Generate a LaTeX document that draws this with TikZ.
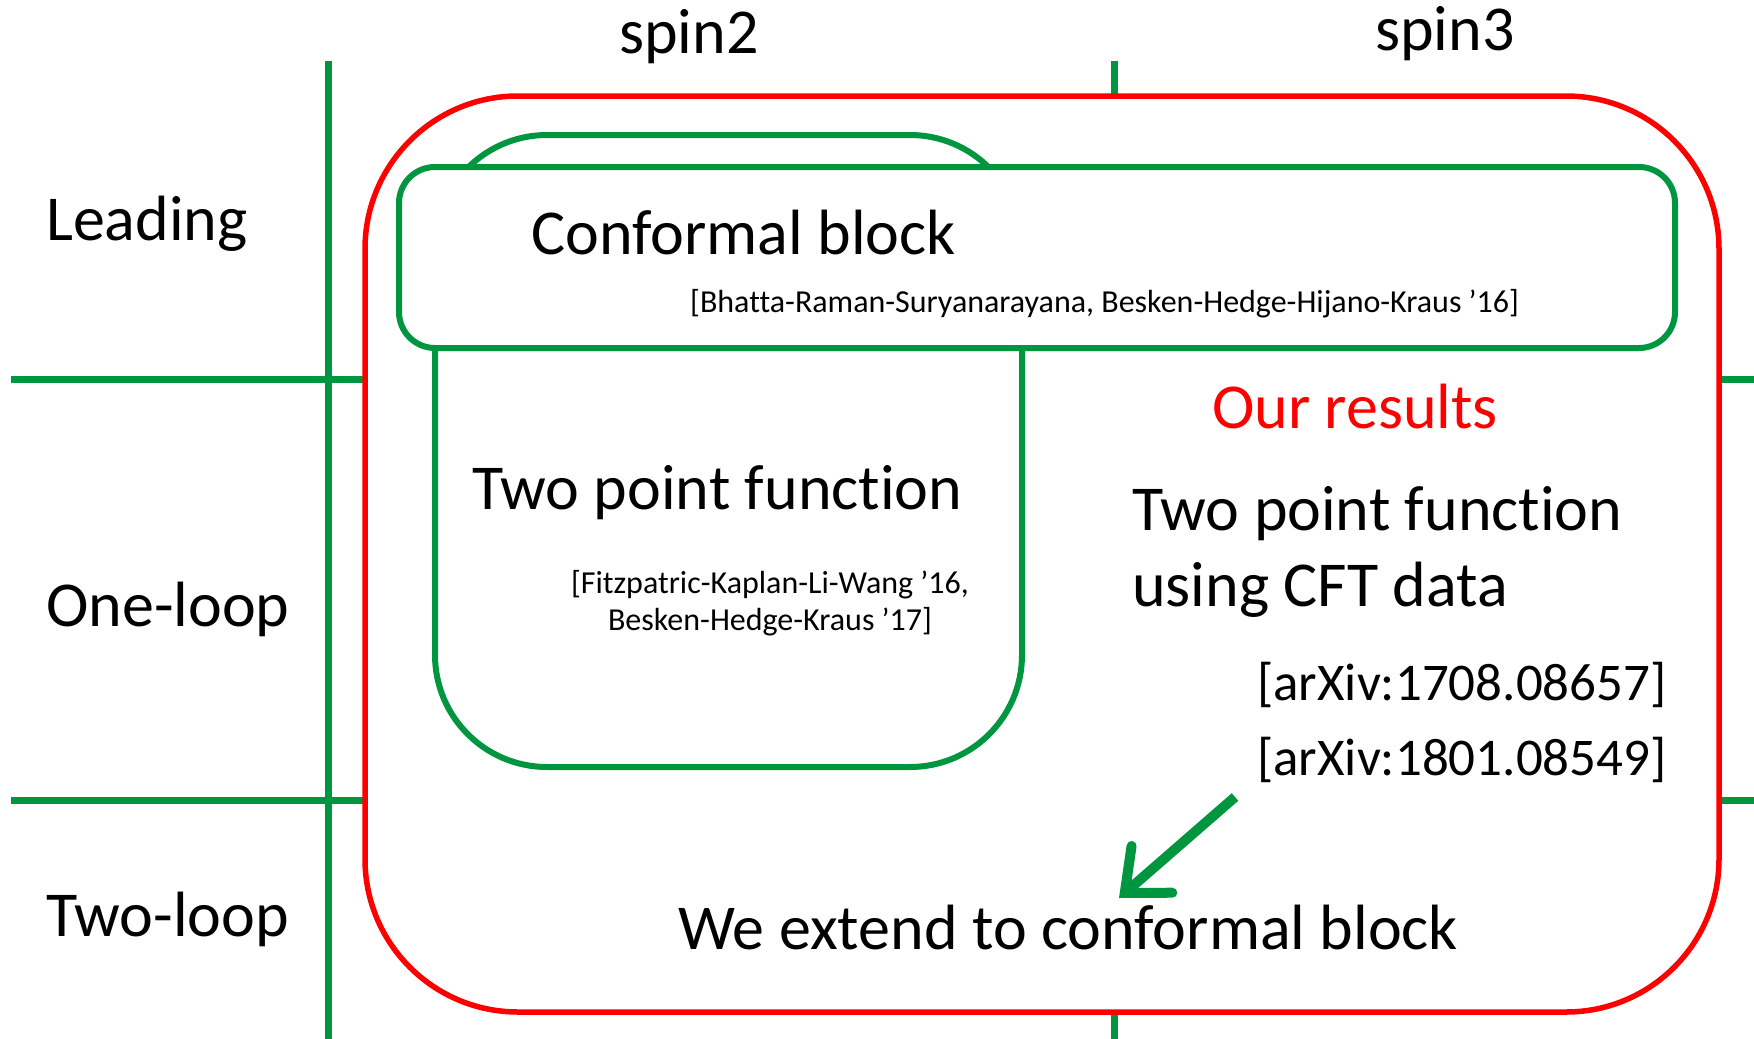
\documentclass[tikz,border=0pt]{standalone}
\usepackage{fontspec}
\setmainfont{Carlito}[Ligatures=NoCommon]
\usetikzlibrary{arrows.meta}
\definecolor{pgreen}{RGB}{0,150,64}
\definecolor{pred}{RGB}{255,0,0}
\begin{document}
\begin{tikzpicture}[x=1pt,y=-1pt,
  gridline/.style={draw=pgreen,line width=7pt},
  gbox/.style={draw=pgreen,line width=6pt},
  lbl/.style={inner sep=0pt,font=\fontsize{64}{70}\selectfont},
  mid/.style={inner sep=0pt,font=\fontsize{53}{60}\selectfont},
  cite/.style={inner sep=0pt,font=\fontsize{32}{37}\selectfont}]
\fill[white] (0,0) rectangle (1754,1039);
\useasboundingbox (0,0) rectangle (1754,1039);
% grid
\draw[gridline] (328,61) -- (328,1039);
\draw[gridline] (1114,61) -- (1114,1039);
\draw[gridline] (11,379) -- (1754,379);
\draw[gridline] (11,800) -- (1754,800);
% outer red box
\draw[draw=pred,line width=5.5pt,fill=white,rounded corners=153pt] (365,96) rectangle (1719,1012);
% two point function box
\draw[gbox,rounded corners=112pt] (435,135) rectangle (1022,767);
% conformal block box
\draw[gbox,fill=white,rounded corners=36pt] (399,167) rectangle (1675,348);
% labels
\node[lbl] (spin2) at (689,37) {spin2};
\node[lbl] (spin3) at (1445,34) {spin3};
\node[lbl,anchor=west] (lead) at (46,224) {Leading};
\node[lbl,anchor=west] (one) at (46,609) {One-loop};
\node[lbl,anchor=west] (two) at (46,919) {Two-loop};
\node[lbl,anchor=west] (cb) at (531,233) {Conformal block};
\node[cite,anchor=west] (cbcite) at (690,304) {[Bhatta-Raman-Suryanarayana, Besken-Hedge-Hijano-Kraus ’16]};
\node[lbl,anchor=west] (tpf) at (472,493) {Two point function};
\node[cite,align=center] (tpfcite) at (770,603) {[Fitzpatric-Kaplan-Li-Wang ’16,\\Besken-Hedge-Kraus ’17]};
\node[lbl,text=pred] (ours) at (1355,407) {Our results};
\node[lbl,anchor=west] (tpf2) at (1132,514) {Two point function};
\node[lbl,anchor=west] (cft) at (1132,590) {using CFT data};
\node[mid,anchor=west] (arx1) at (1257,685) {[arXiv:1708.08657]};
\node[mid,anchor=west] (arx2) at (1257,760) {[arXiv:1801.08549]};
\node[lbl,anchor=west] (ext) at (678,928) {We extend to conformal block};
% arrow
\coordinate (arrS) at (1235,797);
\coordinate (arrE) at (1119,898);
\draw[draw=pgreen,line width=10pt,-{Straight Barb[length=36pt,width=62pt,line cap=round]}] (arrS) -- (arrE);
\end{tikzpicture}
\end{document}
